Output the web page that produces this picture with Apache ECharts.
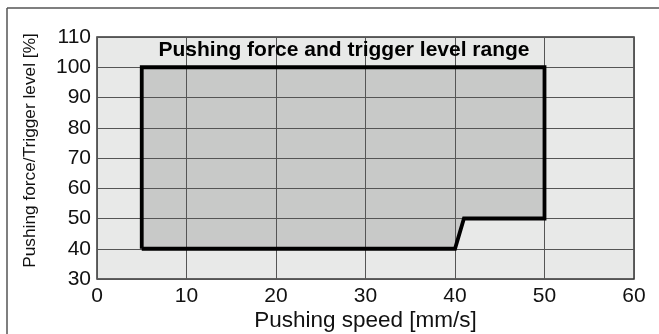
<!DOCTYPE html>
<html>
<head>
<meta charset="utf-8">
<script src="https://cdn.jsdelivr.net/npm/echarts@6/dist/echarts.min.js"></script>
<style>
html,body{margin:0;padding:0;background:#fff;}
#c{width:659px;height:334px;}
</style>
</head>
<body>
<div id="c"></div>
<script>
// Data
var titleText = 'Pushing force and trigger level range';
var xName = 'Pushing speed [mm/s]';
var yName = 'Pushing force/Trigger level [%]';
var speeds = [5, 5, 50, 50, 41, 40, 5];
var forces = [40, 100, 100, 50, 50, 40, 40];
var xMin = 0, xMax = 60, xStep = 10;
var yMin = 30, yMax = 110, yStep = 10;

var pts = speeds.map(function (s, i) { return [s, forces[i]]; });
var FONT = 'Liberation Sans, Arial, Helvetica, sans-serif';

var chart = echarts.init(document.getElementById('c'), null, {renderer: 'canvas'});
chart.setOption({
  animation: false,
  backgroundColor: '#ffffff',
  grid: {
    left: 97, right: 25, top: 37, bottom: 55,
    containLabel: false, outerBoundsMode: 'none',
    show: true, backgroundColor: '#e8e9e8', borderColor: '#333', borderWidth: 1.5, z: 0
  },
  xAxis: {
    type: 'value', min: xMin, max: xMax, interval: xStep, z: 3,
    name: xName, nameLocation: 'middle', nameGap: 30, nameMoveOverlap: false,
    nameTextStyle: {fontFamily: FONT, fontSize: 22.5, color: '#111'},
    axisLine: {show: false}, axisTick: {show: false},
    axisLabel: {fontFamily: FONT, fontSize: 21, color: '#111', margin: 7},
    splitLine: {show: true, lineStyle: {color: '#555', width: 1}}
  },
  yAxis: {
    type: 'value', min: yMin, max: yMax, interval: yStep, z: 3,
    axisLine: {show: false}, axisTick: {show: false},
    axisLabel: {fontFamily: FONT, fontSize: 21, color: '#111', margin: 6},
    splitLine: {show: true, lineStyle: {color: '#555', width: 1}}
  },
  series: [
    {
      type: 'custom', z: 2, silent: true,
      data: [0],
      renderItem: function (params, api) {
        var p = pts.map(function (d) { return api.coord(d); });
        return {type: 'polygon', shape: {points: p}, style: {fill: '#c8c9c8', stroke: 'none'}};
      }
    },
    {
      type: 'line', z: 4, silent: true, data: pts, showSymbol: false, symbol: 'none',
      lineStyle: {color: '#000', width: 3.8, join: 'miter'}
    }
  ],
  graphic: [
    {type: 'line', shape: {x1: 7, y1: 8, x2: 659, y2: 8}, style: {stroke: '#555', lineWidth: 1.5}},
    {type: 'line', shape: {x1: 7, y1: 8, x2: 7, y2: 334}, style: {stroke: '#555', lineWidth: 1.5}},
    {type: 'text', x: 344, y: 50.5, z: 10, style: {text: titleText, font: 'bold 21px ' + FONT, fill: '#000', textAlign: 'center', textVerticalAlign: 'middle'}},
    {type: 'text', x: 30, y: 150.5, rotation: Math.PI / 2, z: 10, style: {text: yName, font: '17.3px ' + FONT, fill: '#111', textAlign: 'center', textVerticalAlign: 'middle'}}
  ]
});
</script>
</body>
</html>
